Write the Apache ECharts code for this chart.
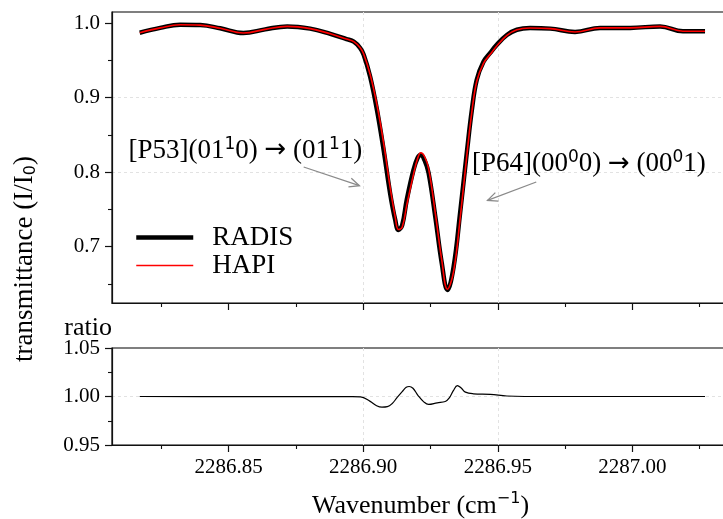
<!DOCTYPE html>
<html>
<head>
<meta charset="utf-8">
<script src="https://cdn.jsdelivr.net/npm/echarts@6/dist/echarts.min.js"></script>
<style>
  html, body { margin: 0; padding: 0; background: #fff; }
  #chart { width: 723px; height: 519px; }
</style>
</head>
<body>
<div id="chart"></div>
<script>
// Transmittance spectra (RADIS vs HAPI) around 2286.92 cm-1
const waveNumber = [
  2286.8170, 2286.8246, 2286.8320, 2286.8395, 2286.8469, 2286.8555, 2286.8636, 2286.8718,
  2286.8803, 2286.8878, 2286.8938, 2286.8965, 2286.8989, 2286.9002, 2286.9026, 2286.9051,
  2286.9076, 2286.9100, 2286.9119, 2286.9131, 2286.9145, 2286.9162, 2286.9187, 2286.9202,
  2286.9214, 2286.9228, 2286.9243, 2286.9268, 2286.9292, 2286.9313, 2286.9336, 2286.9360,
  2286.9385, 2286.9404, 2286.9422, 2286.9447, 2286.9472, 2286.9497, 2286.9534, 2286.9571,
  2286.9620, 2286.9695, 2286.9787, 2286.9880, 2286.9992, 2287.0103, 2287.0188, 2287.0270
];
const radisT = [
  0.9870, 0.9935, 0.9977, 0.9972, 0.9930, 0.9866, 0.9915, 0.9955,
  0.9925, 0.9855, 0.9785, 0.9750, 0.9665, 0.9575, 0.9280, 0.8840,
  0.8300, 0.7720, 0.7360, 0.7225, 0.7290, 0.7630, 0.8030, 0.8190,
  0.8235, 0.8160, 0.7990, 0.7400, 0.6780, 0.6420, 0.6730, 0.7450,
  0.8260, 0.8840, 0.9240, 0.9480, 0.9600, 0.9710, 0.9840, 0.9910,
  0.9933, 0.9925, 0.9880, 0.9935, 0.9935, 0.9955, 0.9890, 0.9890
];
const hapiT = [
  0.9870, 0.9935, 0.9977, 0.9972, 0.9930, 0.9866, 0.9915, 0.9955,
  0.9925, 0.9855, 0.9785, 0.9750, 0.9668, 0.9585, 0.9310, 0.8907,
  0.8390, 0.7800, 0.7400, 0.7230, 0.7260, 0.7560, 0.7970, 0.8180,
  0.8260, 0.8210, 0.8050, 0.7450, 0.6820, 0.6430, 0.6670, 0.7370,
  0.8220, 0.8815, 0.9220, 0.9460, 0.9580, 0.9695, 0.9835, 0.9910,
  0.9933, 0.9925, 0.9880, 0.9935, 0.9935, 0.9955, 0.9890, 0.9890
];

// RADIS / HAPI ratio
const ratioWave = [
  2286.8170, 2286.8500, 2286.8800, 2286.8960, 2286.8990, 2286.9026, 2286.9050, 2286.9070,
  2286.9090, 2286.9107, 2286.9125, 2286.9145, 2286.9160, 2286.9171, 2286.9185, 2286.9204,
  2286.9225, 2286.9243, 2286.9275, 2286.9305, 2286.9320, 2286.9335, 2286.9350, 2286.9365,
  2286.9380, 2286.9410, 2286.9472, 2286.9534, 2286.9600, 2287.0000, 2287.0270
];
const ratioValues = [
  1.0000, 0.9998, 0.9998, 0.9998, 0.9997, 0.9950, 0.9905, 0.9890,
  0.9895, 0.9925, 0.9985, 1.0050, 1.0095, 1.0103, 1.0085, 1.0010,
  0.9945, 0.9918, 0.9935, 0.9948, 0.9985, 1.0060, 1.0113, 1.0085,
  1.0045, 1.0028, 1.0022, 1.0005, 1.0000, 1.0000, 1.0000
];

// Axis ranges and ticks
const xRange = [2286.8067, 2287.0359];
const xMajorTicks = [2286.85, 2286.90, 2286.95, 2287.00];
const xMinorTicks = [2286.825, 2286.875, 2286.925, 2286.975, 2287.025];
const tRange = [0.6245, 1.0148];
const tMajorTicks = [0.7, 0.8, 0.9, 1.0];
const tMinorTicks = [0.65, 0.75, 0.85, 0.95];
const rRange = [0.95, 1.05];
const rMajorTicks = [0.95, 1.00, 1.05];
const rMinorTicks = [0.975, 1.025];

// Annotations: label anchor, arrow tail, arrow head (data coordinates)
const annotations = [
  { text: '[P53](01{sup|1}0) {arr|\u2192} (01{sup|1}1)', at: [2286.8128, 0.8288], tail: [2286.8779, 0.8069], head: [2286.8986, 0.7818] },
  { text: '[P64](00{sup|0}0) {arr|\u2192} (00{sup|0}1)', at: [2286.9404, 0.8104], tail: [2286.9643, 0.7868], head: [2286.9462, 0.7621] }
];

const SERIF = 'Liberation Serif';
const SANS = 'DejaVu Sans';
const AXIS_COLOR = '#111';
const GRID_LINE = { show: true, showMinLine: false, showMaxLine: false, lineStyle: { color: '#e2e2e2', width: 1, type: [3, 3] } };

function majorAxis(dim, gridIndex, range, ticks, opts) {
  return Object.assign({
    type: 'value', gridIndex: gridIndex, min: range[0], max: range[1],
    position: dim === 'x' ? 'bottom' : 'left',
    axisLine: { show: true, onZero: false, lineStyle: { color: AXIS_COLOR, width: 1.2 } },
    axisTick: { show: true, inside: false, length: 7, customValues: ticks, lineStyle: { color: AXIS_COLOR, width: 1.2 } },
    axisLabel: { show: false, customValues: ticks },
    splitLine: GRID_LINE
  }, opts || {});
}
function minorAxis(dim, gridIndex, range, ticks) {
  return {
    type: 'value', gridIndex: gridIndex, min: range[0], max: range[1],
    position: dim === 'x' ? 'bottom' : 'left',
    axisLine: { show: false, onZero: false },
    axisTick: { show: true, inside: false, length: 4, customValues: ticks, lineStyle: { color: AXIS_COLOR, width: 1.1 } },
    axisLabel: { show: false, customValues: ticks },
    splitLine: { show: false }
  };
}
const tickLabel = (digits) => ({
  show: true, margin: 12, color: '#000', fontFamily: SERIF, fontSize: 21,
  formatter: (v) => v.toFixed(digits)
});

const chart = echarts.init(document.getElementById('chart'), null, { renderer: 'canvas' });

chart.setOption({
  animation: false,
  backgroundColor: '#fff',
  grid: [
    { left: 112, right: -6, top: 12, height: 291, show: true, borderColor: '#000', borderWidth: 1.2, outerBoundsMode: 'none' },
    { left: 112, right: -6, top: 348, height: 97, show: true, borderColor: '#000', borderWidth: 1.2, outerBoundsMode: 'none' }
  ],
  xAxis: [
    majorAxis('x', 0, xRange, xMajorTicks),
    minorAxis('x', 0, xRange, xMinorTicks),
    majorAxis('x', 1, xRange, xMajorTicks, {
      axisLabel: Object.assign(tickLabel(2), { customValues: xMajorTicks }),
      name: 'Wavenumber (cm{sup|\u22121})',
      nameLocation: 'middle',
      nameGap: 46,
      nameTextStyle: {
        color: '#000', fontFamily: SERIF, fontSize: 26, lineHeight: 30,
        rich: { sup: { fontFamily: SANS, fontSize: 16, lineHeight: 16, verticalAlign: 'top', color: '#000' } }
      }
    }),
    minorAxis('x', 1, xRange, xMinorTicks)
  ],
  yAxis: [
    majorAxis('y', 0, tRange, tMajorTicks, {
      axisLabel: Object.assign(tickLabel(1), { customValues: tMajorTicks })
    }),
    minorAxis('y', 0, tRange, tMinorTicks),
    majorAxis('y', 1, rRange, rMajorTicks, {
      axisLabel: Object.assign(tickLabel(2), { customValues: rMajorTicks }),
      name: 'ratio',
      nameLocation: 'end',
      nameGap: 20,
      nameMoveOverlap: false,
      nameTextStyle: { color: '#000', fontFamily: SERIF, fontSize: 26, align: 'right', verticalAlign: 'middle' }
    }),
    minorAxis('y', 1, rRange, rMinorTicks)
  ],
  legend: {
    orient: 'vertical', left: 134, top: 224, padding: 0,
    itemWidth: 57, itemHeight: 26, itemGap: 1,
    itemStyle: { opacity: 0, borderWidth: 0 },
    textStyle: { color: '#000', fontFamily: SERIF, fontSize: 27, lineHeight: 26, padding: [0, 0, 0, 14] },
    data: [
      { name: 'RADIS', lineStyle: { width: 4.5 } },
      { name: 'HAPI', lineStyle: { width: 1.5 } }
    ]
  },
  series: [
    {
      name: 'RADIS', type: 'line', xAxisIndex: 0, yAxisIndex: 0,
      data: waveNumber.map((w, i) => [w, radisT[i]]),
      symbol: 'none', showSymbol: false, smooth: 0.4,
      lineStyle: { color: '#000', width: 4.5 }, itemStyle: { color: '#000' }, z: 3
    },
    {
      name: 'HAPI', type: 'line', xAxisIndex: 0, yAxisIndex: 0,
      data: waveNumber.map((w, i) => [w, hapiT[i]]),
      symbol: 'none', showSymbol: false, smooth: 0.4,
      lineStyle: { color: '#ff0000', width: 1.6 }, itemStyle: { color: '#ff0000' }, z: 4
    },
    {
      name: 'ratio', type: 'line', xAxisIndex: 2, yAxisIndex: 2,
      data: ratioWave.map((w, i) => [w, ratioValues[i]]),
      symbol: 'none', showSymbol: false, smooth: 0.4,
      lineStyle: { color: '#000', width: 1.2 }, itemStyle: { color: '#000' }, z: 3
    }
  ]
});

// Annotation labels and arrows, placed from data coordinates of the upper panel
function toPx(p) { return chart.convertToPixel({ gridIndex: 0 }, p); }
function arrowElements(p0, p1) {
  const dx = p1[0] - p0[0], dy = p1[1] - p0[1];
  const len = Math.hypot(dx, dy);
  const ux = dx / len, uy = dy / len;
  const L = 11, a = 0.42, c = Math.cos(a), s = Math.sin(a);
  const w1 = [p1[0] - L * (ux * c - uy * s), p1[1] - L * (uy * c + ux * s)];
  const w2 = [p1[0] - L * (ux * c + uy * s), p1[1] - L * (uy * c - ux * s)];
  const st = { stroke: '#8a8a8a', lineWidth: 1.3, fill: null };
  return [
    { type: 'polyline', shape: { points: [p0, p1] }, style: st, z: 10 },
    { type: 'polyline', shape: { points: [w1, p1, w2] }, style: st, z: 10 }
  ];
}

const graphics = [];
annotations.forEach((a) => {
  const at = toPx(a.at);
  graphics.push({
    type: 'text', x: at[0], y: at[1], z: 10,
    style: {
      text: a.text, fill: '#000', fontFamily: SERIF, fontSize: 27, lineHeight: 30,
      align: 'left', verticalAlign: 'middle',
      rich: {
        sup: { fontFamily: SANS, fontSize: 17, lineHeight: 15, verticalAlign: 'top', fill: '#000' },
        arr: { fontFamily: SANS, fontSize: 26, lineHeight: 30, fill: '#000' }
      }
    }
  });
  arrowElements(toPx(a.tail), toPx(a.head)).forEach((g) => graphics.push(g));
});

// Shared vertical axis title
graphics.push({
  type: 'text', x: 25, y: 259, rotation: Math.PI / 2, z: 10,
  style: {
    text: 'transmittance (I/I{sub|0})', fill: '#000', fontFamily: SERIF, fontSize: 27, lineHeight: 28,
    align: 'center', verticalAlign: 'middle',
    rich: { sub: { fontFamily: SANS, fontSize: 16, lineHeight: 20, verticalAlign: 'bottom', fill: '#000' } }
  }
});

chart.setOption({ graphic: graphics });
</script>
</body>
</html>
